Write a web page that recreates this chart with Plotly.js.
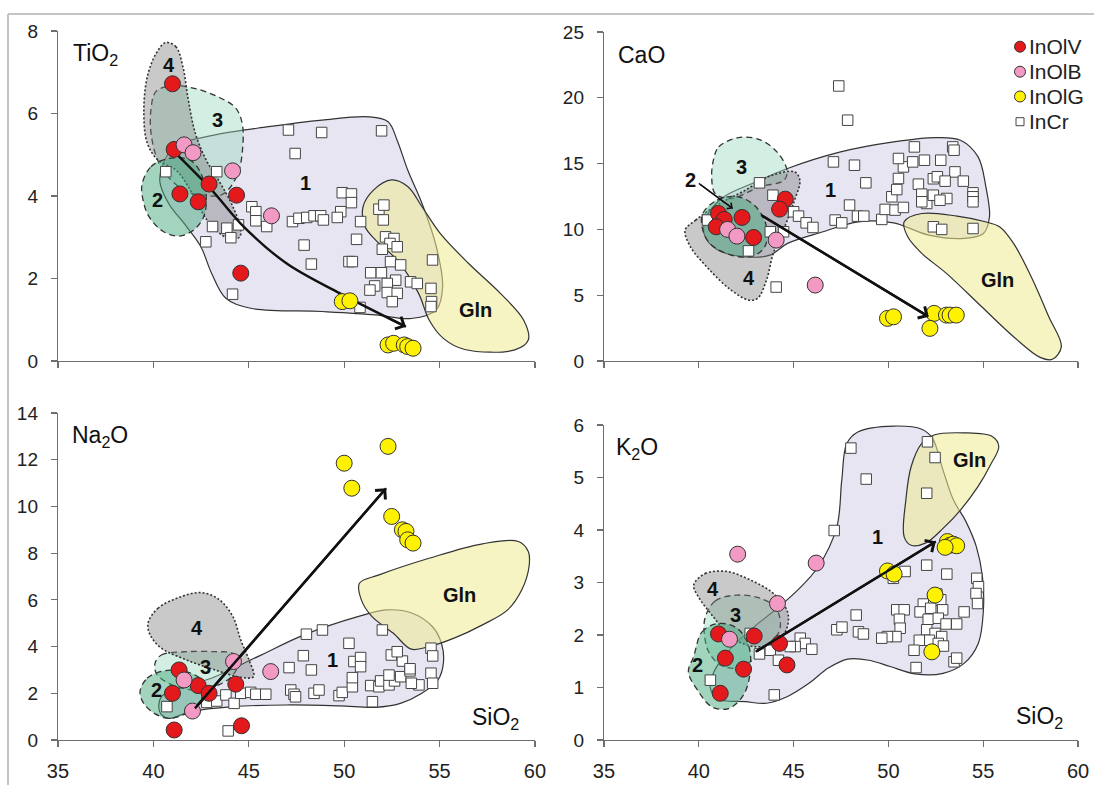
<!DOCTYPE html>
<html><head><meta charset="utf-8">
<script src="https://cdn.plot.ly/plotly-3.0.1.min.js"></script>
<style>html,body{margin:0;padding:0;background:#fff}#chart{width:1094px;height:785px}</style>
</head><body><div id="chart"></div>
<script>
// ---------- Data: TiO2 panel ----------
const ti_V_x=[41.0,41.09,41.39,42.35,42.92,44.36,44.58];
const ti_V_y=[6.72,5.13,4.05,3.86,4.29,4.02,2.13];
const ti_B_x=[41.61,42.08,44.15,46.19];
const ti_B_y=[5.24,5.05,4.61,3.52];
const ti_G_x=[49.9,50.3,52.3,52.59,53.15,53.33,53.61];
const ti_G_y=[1.44,1.46,0.39,0.43,0.39,0.35,0.31];
const ti_C_x=[47.08,48.82,51.96,47.43,40.65,43.32,49.9,50.38,50.38,45.16,45.37,49.82,49.64,45.37,45.94,47.29,47.63,48.04,48.42,48.77,48.91,50.86,51.82,52.08,52.05,43.1,43.85,44.46,44.06,42.75,47.9,50.65,52.17,52.61,52.4,52.78,52.0,48.28,50.25,50.43,52.43,52.96,51.39,51.95,52.7,52.26,51.6,51.35,52.26,52.78,52.52,53.48,53.83,44.15,50.83,54.63,54.55,54.58,54.55];
const ti_C_y=[5.60,5.54,5.58,5.03,4.59,4.59,4.08,4.05,3.84,3.74,3.62,3.62,3.48,3.40,3.26,3.38,3.46,3.48,3.52,3.52,3.42,3.38,3.68,3.78,3.42,3.26,3.22,3.30,2.99,2.89,2.81,2.95,3.01,2.97,2.85,2.77,2.71,2.35,2.41,2.41,2.41,2.33,2.14,2.14,1.96,1.88,1.82,1.72,1.66,1.64,1.44,1.92,1.88,1.62,1.30,2.45,1.76,1.44,1.32];
const ti_r1_x=[41.12,43.24,46.04,48.84,51.28,52.3,52.77,53.33,54.08,54.83,55.16,54.83,53.52,51.65,48.84,45.1,43.8,43.05,42.49,41.74,40.8,40.34,40.52];
const ti_r1_y=[5.2,5.48,5.68,5.84,5.92,5.8,5.36,4.63,3.82,2.77,1.8,1.24,1.03,1.12,1.2,1.28,1.52,2.13,2.77,3.26,3.82,4.35,4.79];
const ti_gl_x=[52.49,53.33,54.08,55.02,56.51,58.19,59.41,59.65,58.94,56.32,55.2,54.46,53.9,52.77,51.65,51.09,50.99,51.55];
const ti_gl_y=[4.39,4.23,3.74,3.1,2.37,1.64,0.99,0.51,0.27,0.28,0.55,0.99,1.64,2.45,2.93,3.26,3.74,4.15];
const ti_r2_x=[39.4,39.87,40.8,41.93,42.49,42.77,42.64,42.12,41.37,40.52,39.77,39.46];
const ti_r2_y=[4.27,4.71,4.91,4.87,4.55,3.98,3.5,3.18,3.03,3.14,3.5,3.9];
const ti_r3_x=[40.13,40.92,42.14,43.36,44.32,44.67,44.67,44.49,44.06,43.53,42.66,41.79,40.92,40.3,39.9,39.87];
const ti_r3_y=[6.53,6.67,6.61,6.41,6.13,5.72,5.12,4.63,4.23,4.02,4.02,4.1,4.39,4.79,5.44,6.08];
const ti_r4_x=[40.65,41.18,41.55,41.83,42.2,42.77,43.51,44.17,44.58,44.51,43.98,43.24,42.58,41.93,41.18,40.24,39.68,39.5,39.68,40.15];
const ti_r4_y=[7.72,7.62,7.13,6.33,5.52,4.87,4.31,3.74,3.18,3.0,2.97,3.18,3.58,4.15,4.63,4.87,5.28,6.0,6.89,7.46];
const ti_arrow_x=[41.27,43.05,44.73,46.97,49.78,53.24];
const ti_arrow_y=[4.99,4.15,3.26,2.37,1.64,0.83];

// ---------- Data: CaO panel ----------
const ca_V_x=[41.04,41.34,40.92,42.28,42.89,44.56,44.26];
const ca_V_y=[11.21,10.76,10.2,10.91,9.39,12.3,11.54];
const ca_B_x=[41.52,42.01,44.08,46.14];
const ca_B_y=[10.0,9.49,9.19,5.77];
const ca_G_x=[49.95,50.27,52.41,52.19,53.06,53.25,53.58];
const ca_G_y=[3.24,3.36,3.62,2.48,3.49,3.49,3.49];
const ca_C_x=[43.2,43.91,47.1,48.21,48.81,47.95,48.37,48.7,47.19,47.54,45.0,45.26,45.66,46.02,43.77,44.47,42.62,44.08,40.46,49.65,49.83,50.35,50.18,50.44,50.53,50.79,50.79,50.53,51.28,51.37,51.9,52.76,53.39,53.46,53.51,53.95,51.58,51.76,52.02,52.37,52.58,52.99,52.37,53.08,52.72,51.76,52.37,52.81,54.46,54.46,54.46,54.46,47.38,47.85];
const ca_C_y=[13.54,12.6,15.13,14.88,13.54,11.85,11.01,11.01,10.71,10.5,11.34,11.01,10.5,10.15,9.82,9.82,8.37,5.62,10.71,10.76,11.52,11.47,12.48,13.03,13.87,11.67,14.75,15.39,15.13,16.27,15.26,15.26,16.27,16.02,14.37,13.67,13.44,12.68,11.97,13.85,14.0,13.67,12.6,12.35,12.22,12.1,10.2,10.0,12.78,12.48,12.1,10.07,20.9,18.3];
const ca_r1_x=[40.4,41.33,42.82,44.68,47.48,50.27,52.5,53.8,54.73,55.14,55.33,55.01,53.99,52.13,50.27,48.41,46.55,44.68,43.75,42.45,40.96,40.3];
const ca_r1_y=[10.96,12.48,13.49,14.63,15.89,16.65,16.98,16.78,15.51,13.23,10.96,9.69,9.32,9.57,10.5,10.58,9.82,8.94,8.05,7.92,8.48,9.57];
const ca_gl_x=[50.83,51.76,53.62,55.11,55.86,56.6,57.53,58.46,59.12,58.65,58.0,56.6,54.92,53.06,51.76,51.02];
const ca_gl_y=[10.58,11.21,11.01,10.58,10.2,8.94,6.4,3.36,1.09,0.13,0.28,1.85,4.12,6.66,8.18,9.44];
const ca_r2_x=[40.21,40.96,42.08,43.01,43.57,43.48,42.82,41.7,40.58,40.17];
const ca_r2_y=[11.21,12.22,12.48,11.72,10.2,8.68,7.97,8.05,8.94,10.2];
const ca_r3_x=[40.77,41.05,42.08,43.2,44.12,44.65,44.5,43.2,41.7,40.86,40.68];
const ca_r3_y=[15.26,16.27,16.98,16.83,15.89,14.5,13.74,13.23,12.35,12.73,13.99];
const ca_r4_x=[39.28,39.84,40.96,42.45,43.75,45.05,45.33,45.05,44.53,43.93,43.57,43.1,42.64,41.7,40.58,39.56];
const ca_r4_y=[9.95,10.71,11.85,12.98,14.05,14.37,13.74,12.22,10.2,8.18,6.15,4.76,4.63,5.39,6.91,8.68];
const ca_arrow_x=[43.29,52.13];
const ca_arrow_y=[11.09,3.36];
const ca_arrow2_x=[40.0,41.79];
const ca_arrow2_y=[13.5,11.59];

// ---------- Data: Na2O panel ----------
const na_V_x=[41.35,41.0,42.35,42.92,44.32,41.09,44.62];
const na_V_y=[3.0,2.0,2.33,2.0,2.39,0.43,0.61];
const na_B_x=[41.61,44.2,46.15,42.05];
const na_B_y=[2.57,3.36,2.93,1.24];
const na_G_x=[50.0,50.4,52.3,52.49,53.05,53.24,53.33,53.61];
const na_G_y=[11.85,10.78,12.57,9.57,9.0,8.93,8.57,8.43];
const na_C_x=[40.71,42.8,43.32,43.8,44.23,44.58,45.1,45.37,45.89,43.92,47.2,47.37,47.45,48.42,48.68,49.73,49.9,50.43,50.43,50.51,50.86,50.86,50.25,47.11,48.28,47.86,48.02,48.86,52.0,51.48,51.39,51.82,51.91,52.35,52.64,52.35,52.96,52.47,53.05,53.45,53.45,53.92,52.78,54.55,54.64,54.55,54.64,53.52];
const na_C_y=[1.43,1.61,1.67,1.93,1.57,2.0,2.04,1.96,1.96,0.39,2.14,1.96,1.85,2.0,2.14,1.9,2.04,2.28,2.67,3.36,3.53,3.14,4.14,3.1,3.0,3.61,4.53,4.71,4.71,1.64,2.33,2.28,2.53,2.36,2.53,2.78,2.71,3.64,3.38,2.96,3.05,2.36,3.78,3.93,3.6,2.86,2.43,2.43];
const na_r1_x=[40.33,40.42,41.36,43.23,45.47,47.9,50.71,52.2,53.51,54.63,55.1,55.2,54.92,54.07,52.95,51.64,49.77,46.97,44.17,41.92,40.8];
const na_r1_y=[1.21,1.86,2.21,2.71,3.57,4.5,5.28,5.57,5.45,4.85,4.14,3.29,2.57,2.0,1.57,1.4,1.46,1.5,1.43,1.21,0.93];
const na_gl_x=[50.8,51.83,54.45,57.25,59.13,59.65,59.69,59.31,58.57,57.25,55.76,54.45,53.51,52.58,51.46,50.9];
const na_gl_y=[6.71,7.07,7.78,8.4,8.5,8.07,7.43,6.43,5.57,4.93,4.36,4.0,3.89,4.57,5.28,6.0];
const na_r2_x=[39.3,39.67,40.61,41.92,42.67,42.58,41.73,40.8,40.05,39.49];
const na_r2_y=[2.07,2.64,2.97,2.88,2.43,1.71,1.14,0.93,1.14,1.57];
const na_r3_x=[40.09,40.42,41.73,43.23,44.17,44.45,44.17,43.42,42.11,40.8,40.15];
const na_r3_y=[3.29,3.64,3.78,3.78,3.71,3.35,2.78,2.36,2.14,2.43,2.86];
const na_r4_x=[39.72,40.24,41.36,42.48,43.42,44.17,44.58,45.01,45.25,44.54,43.23,41.73,40.42,39.83];
const na_r4_y=[5.0,5.64,6.11,6.31,6.03,5.28,4.28,3.43,2.71,2.69,3.0,3.43,3.93,4.5];
const na_arrow_x=[42.11,52.2];
const na_arrow_y=[1.29,10.78];

// ---------- Data: K2O panel ----------
const k_V_x=[41.04,42.92,41.4,42.36,44.26,44.65,41.13];
const k_V_y=[2.02,1.98,1.56,1.35,1.84,1.43,0.89];
const k_B_x=[42.05,46.19,44.15,41.62];
const k_B_y=[3.54,3.37,2.6,1.92];
const k_G_x=[49.95,50.3,53.11,53.25,53.42,53.6,52.99,52.46,52.29];
const k_G_y=[3.22,3.16,3.78,3.71,3.73,3.7,3.67,2.76,1.68];
const k_C_x=[48.02,52.06,52.46,48.83,52.02,47.14,52.02,53.08,50.88,50.26,53.99,52.55,52.34,52.76,51.84,52.23,52.86,51.67,52.1,52.63,53.04,53.6,52.02,52.46,52.81,52.16,52.63,52.9,51.63,51.35,51.46,50.44,50.83,50.58,50.62,50.4,49.95,49.65,48.3,47.28,47.55,48.42,48.68,53.46,53.6,54.66,54.75,54.62,54.7,45.35,45.61,45.96,45.08,43.77,43.2,44.2,42.71,40.61,43.98,44.82];
const k_C_y=[5.56,5.68,5.38,4.97,4.7,3.99,3.33,3.16,3.21,3.08,2.44,2.78,2.67,2.67,2.59,2.51,2.48,2.44,2.3,2.32,2.21,2.21,2.1,2.03,1.97,1.9,1.84,1.79,1.9,1.71,1.38,2.48,2.48,2.3,2.13,1.97,1.97,1.94,2.38,2.1,2.15,2.06,2.02,1.49,1.56,3.08,2.92,2.79,2.6,1.94,1.84,1.73,1.78,1.71,1.64,1.52,2.03,1.14,0.86,1.78];
const k_r1_x=[47.81,48.41,50.27,51.76,52.32,52.88,53.43,54.09,54.64,54.96,55.01,54.74,53.99,52.88,51.4,50.09,48.97,47.85,46.83,45.81,44.68,43.56,42.45,41.0,40.6,40.8,41.7,42.9,44.1,45.2,46.3,47.28,47.54];
const k_r1_y=[5.65,5.87,5.98,5.92,5.75,5.14,4.57,4.16,3.68,3.11,2.48,1.84,1.46,1.27,1.26,1.4,1.52,1.54,1.37,1.08,0.83,0.7,0.73,0.78,1.0,1.3,1.75,2.15,2.5,2.85,3.3,4.06,4.95];
const k_gl_x=[50.83,50.92,51.2,51.76,52.41,53.99,55.48,55.82,55.38,54.73,53.8,52.88,51.95,51.2];
const k_gl_y=[3.87,4.57,5.21,5.65,5.81,5.85,5.78,5.59,5.24,4.83,4.38,4.03,3.75,3.71];
const k_r2_x=[39.73,40.17,41.04,42.01,42.62,42.71,42.36,41.57,40.7,39.99,39.45];
const k_r2_y=[1.59,2.06,2.22,2.13,1.81,1.3,0.86,0.6,0.63,0.92,1.3];
const k_r3_x=[40.34,40.87,42.01,43.24,44.08,44.29,43.86,42.98,42.01,41.13,40.52,40.29];
const k_r3_y=[2.34,2.65,2.76,2.7,2.51,2.13,1.87,1.56,1.37,1.43,1.68,2.03];
const k_r4_x=[39.73,40.34,41.49,42.71,43.94,44.68,44.61,43.94,42.89,41.66,40.78,39.99];
const k_r4_y=[2.95,3.17,3.21,3.05,2.79,2.44,2.1,1.84,1.78,1.97,2.34,2.72];
const k_arrow_x=[43.0,52.5];
const k_arrow_y=[1.68,3.78];

// legend entries
const legendNames=['InOlV','InOlB','InOlG','InCr'];

// ---------- Build ----------
const FONT='"Liberation Sans", Arial, sans-serif';
const COL={V:'#e3191c',B:'#f39ac4',G:'#fff200',C:'#ffffff'};
const C_R1='rgba(198,192,225,0.42)', C_GL='rgba(239,235,145,0.55)', C_R2='rgba(70,170,125,0.5)', C_R3='rgba(150,215,185,0.42)', C_R4='rgba(120,120,120,0.4)';
const traces=[];
function region(xs,ys,ax,fill,dash,w){
  traces.push({x:xs.concat([xs[0]]),y:ys.concat([ys[0]]),xaxis:'x'+ax,yaxis:'y'+ax,mode:'lines',
    line:{shape:'spline',smoothing:1,color:'#333',width:w,dash:dash},fill:'toself',fillcolor:fill,hoverinfo:'skip',showlegend:false});
}
function pts(xs,ys,ax,kind){
  const nm={V:'InOlV',B:'InOlB',G:'InOlG',C:'InCr'}[kind];
  traces.push({x:xs,y:ys,xaxis:'x'+ax,yaxis:'y'+ax,mode:'markers',name:nm,showlegend:false,
    marker:{symbol:kind==='C'?'square':'circle',size:kind==='C'?10.5:16,color:COL[kind],line:{color:kind==='C'?'#444':'#333',width:1}}});
}
function arrowLine(xs,ys,ax,w,spline){
  traces.push({x:xs,y:ys,xaxis:'x'+ax,yaxis:'y'+ax,mode:'lines',line:{color:'#111',width:w,shape:spline?'spline':'linear'},hoverinfo:'skip',showlegend:false});
}
const panels=[
 {ax:'',d:{r1:[ti_r1_x,ti_r1_y],gl:[ti_gl_x,ti_gl_y],r2:[ti_r2_x,ti_r2_y],r3:[ti_r3_x,ti_r3_y],r4:[ti_r4_x,ti_r4_y]},C:[ti_C_x,ti_C_y],V:[ti_V_x,ti_V_y],B:[ti_B_x,ti_B_y],G:[ti_G_x,ti_G_y]},
 {ax:'2',d:{r1:[ca_r1_x,ca_r1_y],gl:[ca_gl_x,ca_gl_y],r2:[ca_r2_x,ca_r2_y],r3:[ca_r3_x,ca_r3_y],r4:[ca_r4_x,ca_r4_y]},C:[ca_C_x,ca_C_y],V:[ca_V_x,ca_V_y],B:[ca_B_x,ca_B_y],G:[ca_G_x,ca_G_y]},
 {ax:'3',d:{r1:[na_r1_x,na_r1_y],gl:[na_gl_x,na_gl_y],r2:[na_r2_x,na_r2_y],r3:[na_r3_x,na_r3_y],r4:[na_r4_x,na_r4_y]},C:[na_C_x,na_C_y],V:[na_V_x,na_V_y],B:[na_B_x,na_B_y],G:[na_G_x,na_G_y]},
 {ax:'4',d:{r1:[k_r1_x,k_r1_y],gl:[k_gl_x,k_gl_y],r2:[k_r2_x,k_r2_y],r3:[k_r3_x,k_r3_y],r4:[k_r4_x,k_r4_y]},C:[k_C_x,k_C_y],V:[k_V_x,k_V_y],B:[k_B_x,k_B_y],G:[k_G_x,k_G_y]}
];
const arrows={'':[ti_arrow_x,ti_arrow_y,true],'2':[ca_arrow_x,ca_arrow_y,false],'3':[na_arrow_x,na_arrow_y,false],'4':[k_arrow_x,k_arrow_y,false]};
panels.forEach(p=>{
  region(p.d.r1[0],p.d.r1[1],p.ax,C_R1,'solid',1.2);
  region(p.d.gl[0],p.d.gl[1],p.ax,C_GL,'solid',1.2);
  region(p.d.r3[0],p.d.r3[1],p.ax,C_R3,'6px,4px',1.3);
  region(p.d.r4[0],p.d.r4[1],p.ax,C_R4,'2px,2px',1.6);
  region(p.d.r2[0],p.d.r2[1],p.ax,C_R2,'6px,4px',1.3);
  pts(p.C[0],p.C[1],p.ax,'C');
  const a=arrows[p.ax];
  arrowLine(a[0],a[1],p.ax,2.4,a[2]);
  pts(p.V[0],p.V[1],p.ax,'V');
  pts(p.B[0],p.B[1],p.ax,'B');
  pts(p.G[0],p.G[1],p.ax,'G');
});
arrowLine(ca_arrow2_x,ca_arrow2_y,'2',1.3,false);

function axis(dom,anchor,range,dtick,labels,isX){
  return {domain:dom,anchor:anchor,range:range,dtick:dtick,tick0:isX?35:0,showline:true,linecolor:'#6e6e6e',linewidth:1.2,ticks:'outside',ticklen:6,tickcolor:'#6e6e6e',tickwidth:1.2,
    showgrid:false,zeroline:false,showticklabels:labels,ticklabelstandoff:isX?7:9,tickfont:{family:FONT,size:isX?20:19,color:'#222'},fixedrange:true};
}
const LX=[0.0530,0.4890], RX=[0.5521,0.9854];
const layout={width:1094,height:785,margin:{l:0,r:0,t:0,b:0},paper_bgcolor:'#fff',plot_bgcolor:'rgba(0,0,0,0)',font:{family:FONT},showlegend:false,
  xaxis:axis(LX,'y',[35,60],5,false,true),
  yaxis:axis([0.5401,0.9605],'x',[0,8],2,true,false),
  xaxis2:axis(RX,'y2',[35,60],5,false,true),
  yaxis2:axis([0.5401,0.9592],'x2',[0,25],5,true,false),
  xaxis3:axis(LX,'y3',[35,60],5,true,true),
  yaxis3:axis([0.0573,0.4739],'x3',[0,14],2,true,false),
  xaxis4:axis(RX,'y4',[35,60],5,true,true),
  yaxis4:axis([0.0573,0.4586],'x4',[0,6],1,true,false),
  shapes:[
    {type:'line',xref:'paper',yref:'paper',x0:8/1094,x1:1,y0:1-14/785,y1:1-14/785,line:{color:'#c4c4c4',width:2}},
    {type:'line',xref:'paper',yref:'paper',x0:8/1094,x1:8/1094,y0:0,y1:1-14/785,line:{color:'#c4c4c4',width:2}}
  ],
  annotations:[]
};
const A=layout.annotations;
function lab(t,x,y,ax){A.push({text:'<b>'+t+'</b>',x:x,y:y,xref:'x'+ax,yref:'y'+ax,showarrow:false,font:{family:FONT,size:20,color:'#111'}});}
function ptxt(t,x,y,anchor){A.push({text:t,x:x,y:y,xref:'paper',yref:'paper',xanchor:anchor,yanchor:'middle',showarrow:false,font:{family:FONT,size:23,color:'#111'}});}
lab('4',40.8,7.18,'');lab('3',43.37,5.84,'');lab('2',40.24,3.9,'');lab('1',47.95,4.31,'');lab('Gln',56.88,1.24,'');
lab('3',42.27,14.75,'2');lab('2',39.56,13.74,'2');lab('1',46.92,12.98,'2');lab('4',42.64,6.28,'2');lab('Gln',55.75,6.15,'2');
lab('4',42.3,4.78,'3');lab('3',42.71,3.14,'3');lab('2',40.18,2.14,'3');lab('1',49.4,3.43,'3');lab('Gln',56.04,6.21,'3');
lab('4',40.77,2.87,'4');lab('3',41.94,2.38,'4');lab('2',39.91,1.43,'4');lab('1',49.43,3.87,'4');lab('Gln',54.27,5.33,'4');
ptxt('TiO<sub>2</sub>',0.0649,0.930,'left');
ptxt('CaO',0.563,0.930,'left');
ptxt('Na<sub>2</sub>O',0.0636,0.4437,'left');
ptxt('K<sub>2</sub>O',0.5614,0.4289,'left');
ptxt('SiO<sub>2</sub>',0.4766,0.085,'right');
ptxt('SiO<sub>2</sub>',0.9732,0.0854,'right');
// legend (symbols as layout shapes, names as text)
const legKinds=['V','B','G','C'];
const legRowY=[46.7,71.7,96.5,121.7];
legendNames.forEach((nm,i)=>{
  const yc=1-legRowY[i]/785, xc=1020/1094, k=legKinds[i];
  const h=k==='C'?4:5.5;
  layout.shapes.push({type:k==='C'?'rect':'circle',xref:'paper',yref:'paper',xsizemode:'pixel',ysizemode:'pixel',xanchor:xc,yanchor:yc,
    x0:-h,x1:h,y0:-h,y1:h,fillcolor:COL[k],line:{color:k==='C'?'#444':'#333',width:1}});
  A.push({text:nm,x:1027/1094,y:yc,xref:'paper',yref:'paper',xanchor:'left',yanchor:'middle',showarrow:false,font:{family:FONT,size:21,color:'#222'}});
});
// arrowheads
function head(xs,ys,ax,w,px,py){
  const n=xs.length-1;
  const o={x:xs[n],y:ys[n],xref:'x'+ax,yref:'y'+ax,text:'',showarrow:true,arrowhead:4,arrowsize:1.1,arrowwidth:w,arrowcolor:'#111'};
  if(px!==undefined){o.ax=px;o.ay=py;}else{o.ax=xs[n-1];o.ay=ys[n-1];o.axref='x'+ax;o.ayref='y'+ax;}
  A.push(o);
}
head(ti_arrow_x,ti_arrow_y,'',2.4,-20,-10);
head(ca_arrow_x,ca_arrow_y,'2',2.4);
head(na_arrow_x,na_arrow_y,'3',2.4);
head(k_arrow_x,k_arrow_y,'4',2.4);
head(ca_arrow2_x,ca_arrow2_y,'2',1.3);
Plotly.newPlot('chart',traces,layout,{displayModeBar:false,staticPlot:true});
</script></body></html>
